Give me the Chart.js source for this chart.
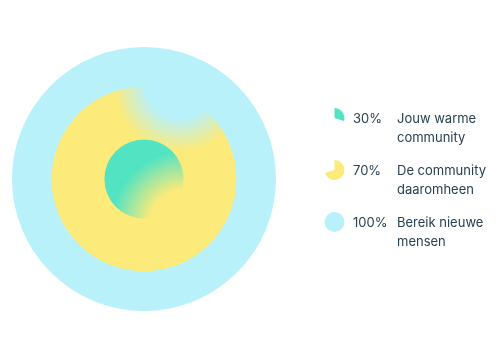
<!DOCTYPE html>
<html>
<head>
<meta charset="utf-8">
<script src="https://cdn.jsdelivr.net/npm/chart.js@4/dist/chart.umd.min.js"></script>
<style>
  html, body { margin: 0; padding: 0; background: #ffffff; }
  #wrap { width: 500px; height: 359px; }
</style>
</head>
<body>
<div id="wrap"><canvas id="rings"></canvas></div>
<script>
// Rings, from outside to inside
const ringLabels = ['Bereik nieuwe mensen', 'De community daaromheen', 'Jouw warme community'];
const ringValues = [100, 70, 30];
const ringColors = ['#b8f1fa', '#fcea7a', '#52e3c3'];

// Legend, top to bottom
const legendPercents = ['30%', '70%', '100%'];
const legendValues = [30, 70, 100];
const legendLines = [['Jouw warme', 'community'], ['De community', 'daaromheen'], ['Bereik nieuwe', 'mensen']];
const legendColors = ['#52e3c3', '#fcea7a', '#b8f1fa'];

// soft "bite" in each inner disc: colour of the ring outside it blends in
function ringFill(context) {
    const chart = context.chart;
    const i = context.dataIndex;
    const r = chart.scales.r;
    if (!r || !r.drawingArea) return ringColors[i];
    const cx = r.xCenter, cy = r.yCenter, R = r.drawingArea;
    const c = chart.ctx;
    let g;
    if (i === 1) {
        g = c.createRadialGradient(cx + 0.27 * R, cy - 0.71 * R, 0, cx + 0.27 * R, cy - 0.71 * R, 0.5 * R);
        g.addColorStop(0, ringColors[0]);
        g.addColorStop(0.5, ringColors[0]);
        g.addColorStop(1, ringColors[1]);
        return g;
    }
    if (i === 2) {
        g = c.createRadialGradient(cx + 0.31 * R, cy + 0.35 * R, 0, cx + 0.31 * R, cy + 0.35 * R, 0.56 * R);
        g.addColorStop(0, ringColors[1]);
        g.addColorStop(0.48, ringColors[1]);
        g.addColorStop(1, ringColors[2]);
        return g;
    }
    return ringColors[i];
}

const sideLegend = {
    id: 'sideLegend',
    afterDraw(chart) {
        const ctx = chart.ctx;
        ctx.save();
        for (let i = 0; i < legendValues.length; i++) {
            const base = 123 + i * 52;
            const ix = 334.5, iy = base - 5, ir = 10;
            const start = -Math.PI / 2;
            const end = start + Math.PI * 2 * legendValues[i] / 100;
            ctx.beginPath();
            if (legendValues[i] < 100) ctx.moveTo(ix, iy);
            ctx.arc(ix, iy, ir, start, end);
            ctx.closePath();
            ctx.fillStyle = legendColors[i];
            ctx.fill();

            ctx.fillStyle = '#28404f';
            ctx.font = '13px Inter, "Noto Sans", sans-serif';
            ctx.textBaseline = 'alphabetic';
            ctx.textAlign = 'left';
            ctx.fillText(legendPercents[i], 353, base);
            legendLines[i].forEach((line, k) => {
                ctx.fillText(line, 397, base + k * 18.5);
            });
        }
        ctx.restore();
    }
};

new Chart(document.getElementById('rings'), {
    type: 'polarArea',
    data: {
        labels: ringLabels,
        datasets: [{
            data: ringValues,
            backgroundColor: ringFill,
            borderWidth: 0,
            angle: 360
        }]
    },
    options: {
        responsive: true,
        maintainAspectRatio: false,
        animation: false,
        layout: {
            padding: { left: 12, right: 224, top: 47, bottom: 48 }
        },
        scales: {
            r: {
                display: false,
                min: 0,
                max: 100
            }
        },
        plugins: {
            legend: { display: false },
            tooltip: { enabled: false }
        }
    },
    plugins: [sideLegend]
});
</script>
</body>
</html>
